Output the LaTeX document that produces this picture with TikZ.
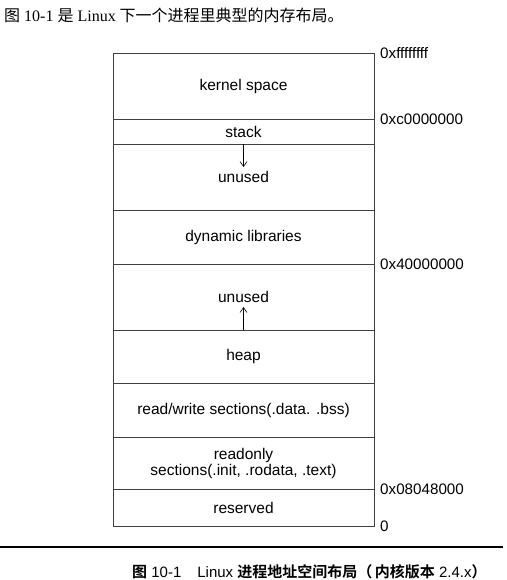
\documentclass[tikz,border=0pt]{standalone}
\usepackage{fontspec}
\usepackage{tikz}
\usetikzlibrary{positioning,arrows.meta}
\setmainfont{Liberation Serif}
\setsansfont{Liberation Sans}
\newfontfamily\cjk{Noto Sans CJK SC}
\newfontfamily\cjkbf{Noto Sans CJK SC Bold}
\tikzset{seg/.style={rectangle, minimum width=261pt, inner sep=0pt, outer sep=0pt, text centered, align=center, draw=black!75, line width=0.6pt, font=\sffamily\fontsize{15.5}{16}\selectfont},
addr/.style={anchor=west, inner sep=0pt, font=\sffamily\fontsize{15.2}{16}\selectfont},
arrow/.style={line width=0.6pt,->,>={Straight Barb[length=5pt,width=7pt]}}}

\begin{document}
\begin{tikzpicture}[x=1pt, y=-1pt]
\useasboundingbox (0,0) rectangle (506,580);
\node (intro) [anchor=west, inner sep=0pt, font=\fontsize{16}{18}\selectfont] at (4,15) {{\cjk 图} 10-1 {\cjk 是} Linux {\cjk 下一个进程里典型的内存布局。}};
% segments, from the top address down
\node (kernel) [seg, minimum height=66pt, anchor=north] at (243.5,53) {kernel space};
\node (stack) [seg, minimum height=25pt, below=0pt of kernel] {stack};
\node (unusedhi) [seg, minimum height=66pt, below=0pt of stack] {unused};
\node (dynlib) [seg, minimum height=54pt, below=0pt of unusedhi] {dynamic libraries};
\node (unusedlo) [seg, minimum height=66pt, below=0pt of dynlib] {unused};
\node (heap) [seg, minimum height=53pt, below=0pt of unusedlo] {heap};
\node (rwdata) [seg, minimum height=54pt, below=0pt of heap] {read/write sections(.data. .bss)};
\node (rodata) [seg, minimum height=52pt, below=0pt of rwdata] {readonly\\sections(.init, .rodata, .text)};
\node (reserved) [seg, minimum height=37pt, below=0pt of rodata] {reserved};
% addresses
\node (a1) [addr] at ([xshift=6pt]kernel.north east) {0xffffffff};
\node (a2) [addr] at ([xshift=6pt]stack.north east) {0xc0000000};
\node (a3) [addr] at ([xshift=6pt]unusedlo.north east) {0x40000000};
\node (a4) [addr] at ([xshift=6pt]reserved.north east) {0x08048000};
\node (a5) [addr] at ([xshift=6pt]reserved.south east) {0};
% growth
\coordinate (stacktip) at (243.5,167);
\coordinate (heaptip) at (243.5,307);
\draw [arrow] (stack.south) -- (stacktip);
\draw [arrow] (heap.north) -- (heaptip);
% caption
\coordinate (ruleL) at (0,547);
\coordinate (ruleR) at (503,547);
\draw [line width=1.2pt] (ruleL) -- (ruleR);
\node (caption) [anchor=west, inner sep=0pt, font=\sffamily\fontsize{15}{16}\selectfont] at (132,572) {{\cjkbf 图} 10-1\hspace{16pt}Linux {\cjkbf 进程地址空间布局（\,内核版本} 2.4.x{\cjkbf ）}};
\end{tikzpicture}
\end{document}
